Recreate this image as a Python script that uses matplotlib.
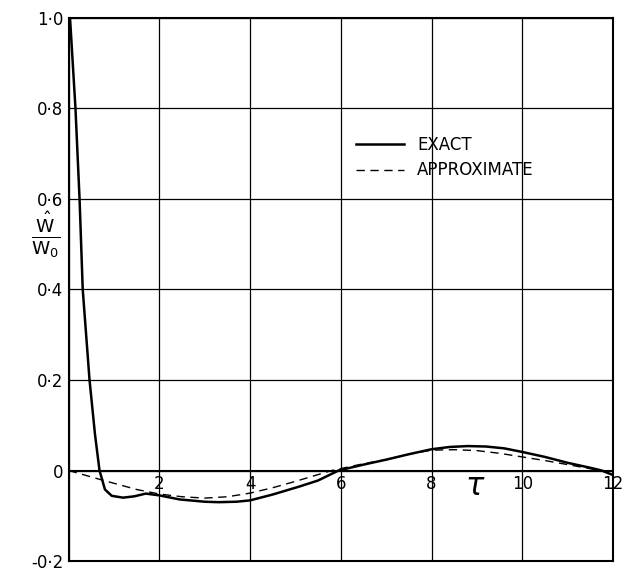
import matplotlib
matplotlib.use('Agg')
import matplotlib.pyplot as plt

# exact solution
x_exact = [0.03, 0.15, 0.24, 0.31, 0.46, 0.58, 0.68, 0.8, 0.95, 1.2, 1.45, 1.7, 2.0, 2.45,
           3.0, 3.3, 3.7, 4.0, 4.5, 5.1, 5.5, 5.95, 6.5, 7.0, 7.5, 8.0, 8.4, 8.8, 9.2,
           9.6, 10.0, 10.5, 11.0, 11.5, 11.75, 12.0]
y_exact = [1.0, 0.8, 0.6, 0.4, 0.2, 0.08, 0.0, -0.042, -0.056, -0.06, -0.057, -0.051, -0.055,
           -0.064, -0.069, -0.07, -0.069, -0.066, -0.053, -0.035, -0.022, 0.0, 0.013, 0.024,
           0.036, 0.047, 0.052, 0.054, 0.053, 0.049, 0.041, 0.03, 0.017, 0.006, 0.0, -0.01]

# approximate solution
x_approx = [0, 0.7, 1.5, 2.0, 2.5, 3.0, 3.5, 4.0, 4.5, 5.0, 5.5, 5.8, 6.5, 7.0, 7.5, 8.0,
            8.5, 9.0, 9.5, 10.0, 10.5, 11.0, 11.5, 12.0]
y_approx = [0, -0.02, -0.042, -0.052, -0.058, -0.061, -0.058, -0.05, -0.038, -0.024, -0.009,
            0.0, 0.015, 0.024, 0.036, 0.045, 0.046, 0.044, 0.038, 0.03, 0.022, 0.013, 0.004,
            -0.005]

x_ticks = [2, 4, 6, 8, 10, 12]
x_ticklabels = ['2', '4', '6', '8', '10', '12']
y_ticks = [-0.2, 0, 0.2, 0.4, 0.6, 0.8, 1.0]
y_ticklabels = ['-0·2', '0', '0·2', '0·4', '0·6', '0·8', '1·0']

fig = plt.figure(figsize=(6.3, 5.71), dpi=100)
ax = fig.add_axes([0.109, 0.0175, 0.864, 0.951])

ax.plot(x_exact, y_exact, color='black', lw=1.8, label='EXACT')
ax.plot(x_approx, y_approx, color='black', lw=1.0, ls=(0, (6, 4)), label='APPROXIMATE')
ax.axhline(0, color='black', lw=1.5)

ax.set_xlim(0, 12)
ax.set_ylim(-0.2, 1.0)
ax.set_xticks([0] + x_ticks)
ax.set_xticklabels([])
ax.set_yticks(y_ticks)
ax.set_yticklabels(y_ticklabels, fontsize=12)
ax.tick_params(length=0, pad=4)
ax.grid(True, color='black', lw=0.9)
for s in ax.spines.values():
    s.set_linewidth(1.5)

for xt, lab in zip(x_ticks, x_ticklabels):
    ax.text(xt, -0.01, lab, ha='center', va='top', fontsize=12, clip_on=False)

ax.text(8.97, -0.035, r'$\tau$', ha='center', va='center', fontsize=22)
ax.text(-0.042, 0.6, r'$\frac{\hat{\mathrm{W}}}{\mathrm{W}_0}$', transform=ax.transAxes,
        ha='center', va='center', fontsize=19)

ax.legend(loc='upper left', bbox_to_anchor=(0.515, 0.795), frameon=False, fontsize=12,
          handlelength=2.9, handletextpad=0.8, labelspacing=0.45, borderaxespad=0)

fig.savefig('out.png', dpi=100)
